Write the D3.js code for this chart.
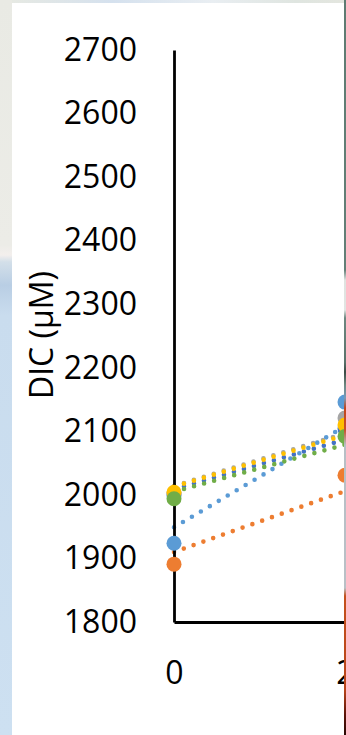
<!DOCTYPE html>
<html>
<head>
<meta charset="utf-8">
<script src="https://cdn.jsdelivr.net/npm/d3@7"></script>
<style>
  html, body { margin: 0; padding: 0; background: #cddff0; overflow: hidden; }
  svg { display: block; }
</style>
</head>
<body>
<svg id="chart" width="346" height="735"></svg>
<script>
// ---- data ----
const xTicks = [0, 2];
const yTicks = [1800, 1900, 2000, 2100, 2200, 2300, 2400, 2500, 2600, 2700];
const yLabel = "DIC (μM)";
const sampleDays = [0, 2];
const seriesNames = ["S1", "S2", "S3", "S4", "S5", "S6"];
const s1Values = [2000, 2104];
const s2Values = [1891, 2031];
const s3Values = [2002, 2121];
const s4Values = [2004, 2110];
const s5Values = [1924, 2146];
const s6Values = [1994, 2092];
// linear trendline values at day 0 and day 2
const s1Trend = [2009, 2087];
const s2Trend = [1910, 2006];
const s3Trend = [2014, 2097];
const s4Trend = [2013, 2094];
const s5Trend = [1949, 2108];
const s6Trend = [2005, 2079];

// ---- styles ----
const colors = ["#4472C4", "#ED7D31", "#A5A5A5", "#FFC000", "#5B9BD5", "#70AD47"];
const FONT = "'Open Sans', 'Liberation Sans', sans-serif";

const seriesVals = [s1Values, s2Values, s3Values, s4Values, s5Values, s6Values];
const seriesTrend = [s1Trend, s2Trend, s3Trend, s4Trend, s5Trend, s6Trend];

const svg = d3.select("#chart");
const W = 346, H = 735;

// ---- background (slide image around the chart panel) ----
const defs = svg.append("defs");
function vGrad(id, stops) {
  const g = defs.append("linearGradient").attr("id", id)
    .attr("x1", 0).attr("y1", 0).attr("x2", 0).attr("y2", 1);
  stops.forEach(([o, c]) => g.append("stop").attr("offset", o / H).attr("stop-color", c));
}
vGrad("leftBg", [[0, "#e9eae4"], [245, "#ecece7"], [255, "#f3efed"], [262, "#d3dfe9"], [285, "#b9cee4"], [315, "#c9dcee"], [735, "#cde0f1"]]);
vGrad("rightBg", [[0, "#5e7b72"], [270, "#637f77"], [280, "#dfe3e0"], [310, "#e2e5e3"], [318, "#6d8780"], [362, "#5a726b"], [372, "#3a4a44"], [385, "#6d8780"], [398, "#7a9ab8"], [408, "#c2451c"], [430, "#c8502a"], [445, "#b7bfc6"], [588, "#b9c0c6"], [596, "#c4501c"], [690, "#b8441a"], [715, "#5a1208"], [735, "#2a0805"]]);

svg.append("rect").attr("x", 0).attr("y", 0).attr("width", W).attr("height", H).attr("fill", "url(#leftBg)");
const topG = defs.append("linearGradient").attr("id", "topBg");
[[0, "#e6e9e3"], [0.3, "#d5e1ee"], [0.6, "#e9eef2"], [0.85, "#dfe5e0"], [1, "#e4e6df"]]
  .forEach(([o, c]) => topG.append("stop").attr("offset", o).attr("stop-color", c));
svg.append("rect").attr("x", 12).attr("y", 0).attr("width", W - 12).attr("height", 3).attr("fill", "url(#topBg)");

// white chart panel
svg.append("rect").attr("x", 12).attr("y", 3).attr("width", 332).attr("height", H - 3).attr("fill", "#ffffff");

// ---- scales ----
const x = d3.scaleLinear().domain([0, 2.1]).range([174, 174 + 2.1 * 85.5]);
const y = d3.scaleLinear().domain([1800, 2700]).range([622, 50]);

const g = svg.append("g");

// trendlines (round dotted)
const line = d3.line().x(d => x(d[0])).y(d => y(d[1]));
seriesTrend.forEach((t, i) => {
  g.append("path")
    .datum(sampleDays.map((d, k) => [d, t[k]]))
    .attr("d", line)
    .attr("fill", "none")
    .attr("stroke", colors[i])
    .attr("stroke-width", 4.6)
    .attr("stroke-linecap", "round")
    .attr("stroke-dasharray", "0 10.4");
});

// axes
const yAxis = g.append("g").attr("transform", `translate(${x(0)},0)`)
  .call(d3.axisLeft(y).tickValues(yTicks).tickSize(0).tickPadding(37).tickFormat(d3.format("d")));
const xAxis = g.append("g").attr("transform", `translate(0,${y(1800)})`)
  .call(d3.axisBottom(x).tickValues(xTicks).tickSize(0).tickPadding(39).tickFormat(d3.format("d")));
[yAxis, xAxis].forEach(a => {
  a.select(".domain").attr("stroke", "#000").attr("stroke-width", 2.8);
  a.selectAll("text").attr("font-family", FONT).attr("font-size", 32).attr("fill", "#000");
});

// markers
seriesVals.forEach((vals, i) => {
  g.selectAll(null).data(sampleDays.map((d, k) => [d, vals[k]])).enter()
    .append("circle")
    .attr("cx", d => x(d[0]))
    .attr("cy", d => y(d[1]))
    .attr("r", 7.5)
    .attr("fill", colors[i]);
});

// y axis title
svg.append("text")
  .attr("transform", "translate(53,335) rotate(-90)")
  .attr("text-anchor", "middle")
  .attr("font-family", FONT)
  .attr("font-size", 32)
  .attr("fill", "#000")
  .text(yLabel);

// right edge strip of the slide background
svg.append("rect").attr("x", 344).attr("y", 0).attr("width", 2).attr("height", H).attr("fill", "url(#rightBg)");
</script>
</body>
</html>
